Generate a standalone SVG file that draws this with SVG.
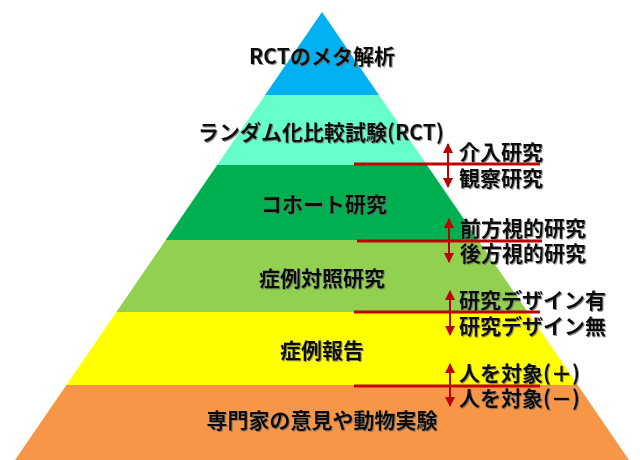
<svg xmlns="http://www.w3.org/2000/svg" width="640" height="460" viewBox="0 0 640 460">
<style>
text{font-family:"Noto Sans CJK JP","Noto Sans",sans-serif;font-weight:bold;font-size:21px;fill:#111;dominant-baseline:central;filter:url(#sh)}
.c{text-anchor:middle}
.ln{stroke:#C00000;stroke-width:3}
.ar{stroke:#C00000;stroke-width:2;marker-start:url(#ah);marker-end:url(#ah)}
</style>
<defs>
<filter id="sh" x="-5%" y="-20%" width="110%" height="140%"><feDropShadow dx="1" dy="1" stdDeviation="0.6" flood-color="#666" flood-opacity="0.7"/></filter>
<marker id="ah" viewBox="0 0 10 10" refX="9" refY="5" markerWidth="5" markerHeight="5" orient="auto-start-reverse"><path d="M0,0 L10,5 L0,10 z" fill="#C00000"/></marker>
</defs>
<rect width="640" height="460" fill="#fff"/>
<g id="level1"><polygon points="322,12 378.9,95 265.1,95" fill="#00B0F0"/><text class="c" x="322" y="55">RCTのメタ解析</text></g>
<g id="level2"><polygon points="265.1,95 378.9,95 426.9,165 217.1,165" fill="#66FFCC"/><text class="c" x="321" y="131">ランダム化比較試験(RCT)</text></g>
<g id="level3"><polygon points="217.1,165 426.9,165 478.2,240 165.8,240" fill="#00B050"/><text class="c" x="324" y="203">コホート研究</text></g>
<g id="level4"><polygon points="165.8,240 478.2,240 527.6,312 116.4,312" fill="#92D050"/><text class="c" x="322" y="277">症例対照研究</text></g>
<g id="level5"><polygon points="116.4,312 527.6,312 577.6,385 66.4,385" fill="#FFFF00"/><text class="c" x="322" y="349">症例報告</text></g>
<g id="level6"><polygon points="66.4,385 577.6,385 629,460 15,460" fill="#F79646"/><text class="c" x="322" y="419">専門家の意見や動物実験</text></g>
<g id="connectors">
<line class="ln" x1="354" y1="164" x2="540" y2="164"/>
<line class="ar" x1="448" y1="144" x2="448" y2="187"/>
<line class="ln" x1="357" y1="241" x2="542" y2="241"/>
<line class="ar" x1="449" y1="219" x2="449" y2="262"/>
<line class="ln" x1="354" y1="312" x2="540" y2="312"/>
<line class="ar" x1="450" y1="291" x2="450" y2="335"/>
<line class="ln" x1="354" y1="386" x2="540" y2="386"/>
<line class="ar" x1="450" y1="364" x2="450" y2="406"/>
</g>
<g id="side-labels">
<text x="459" y="151">介入研究</text>
<text x="459" y="177">観察研究</text>
<text x="460" y="227">前方視的研究</text>
<text x="460" y="252">後方視的研究</text>
<text x="459" y="299">研究デザイン有</text>
<text x="459" y="325">研究デザイン無</text>
<text x="459" y="372">人を対象(＋)</text>
<text x="459" y="397">人を対象(－)</text>
</g>
</svg>
